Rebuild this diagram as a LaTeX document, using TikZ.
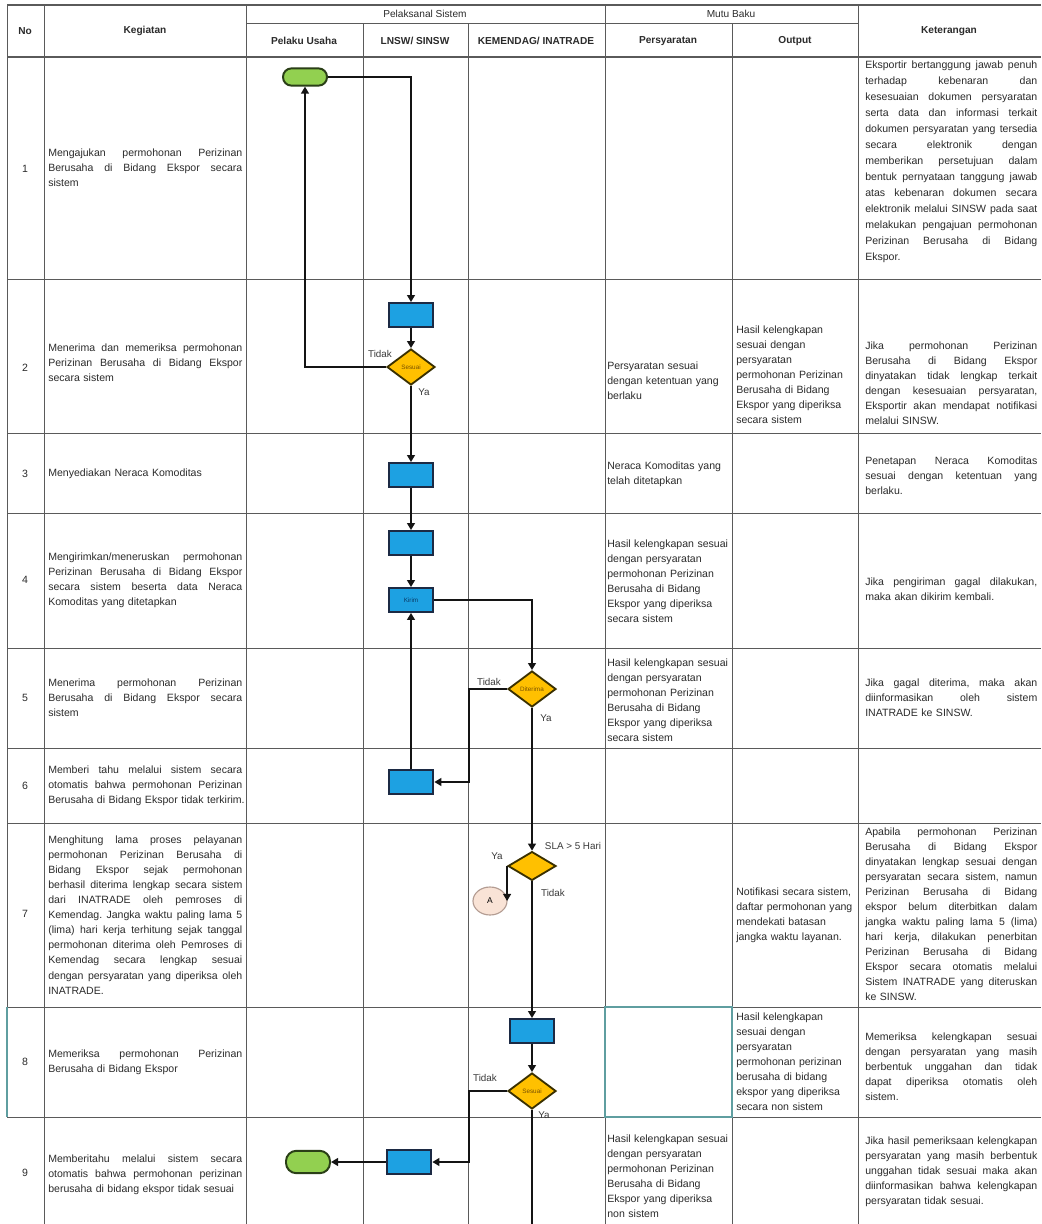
\documentclass[tikz,border=0pt]{standalone}
\usepackage{fontspec}
\setmainfont{Liberation Sans}
\usetikzlibrary{arrows.meta,positioning,shapes.geometric}
\definecolor{termgreen}{HTML}{92D050}
\definecolor{termline}{HTML}{2A3F17}
\definecolor{procblue}{HTML}{1DA1E2}
\definecolor{procline}{HTML}{1C2A44}
\definecolor{decyellow}{HTML}{FFC000}
\definecolor{decline}{HTML}{3A3000}
\definecolor{dectext}{HTML}{7A5200}
\definecolor{kirimtext}{HTML}{0B3A66}
\definecolor{conpeach}{HTML}{F9E3D6}
\definecolor{conline}{HTML}{B39C92}
\definecolor{flowline}{HTML}{141414}
\definecolor{gridline}{HTML}{5A5A5A}
\definecolor{tealline}{HTML}{5F9EA0}
\definecolor{inktext}{HTML}{2B2B2B}
\definecolor{lbltext}{HTML}{3A3A3A}
\newcommand{\jk}[1]{\makebox[4.85cm][s]{\spaceskip=0pt\xspaceskip=0pt\relax #1}\\}
\newcommand{\jt}[1]{\makebox[4.3cm][s]{\spaceskip=0pt\xspaceskip=0pt\relax #1}\\}

\begin{document}
\frenchspacing
\begin{tikzpicture}[x=0.025cm, y=-0.025cm,
  tline/.style={draw=gridline, line width=0.6pt},
  txt/.style={font=\fontsize{7.5}{10.7}\selectfont, text=inktext, inner sep=0pt, anchor=west, align=left},
  keg/.style={txt, text width=5cm},
  ket/.style={txt, text width=4.5cm},
  syr/.style={txt, text width=3.1cm},
  num/.style={font=\fontsize{7.5}{9}\selectfont, text=inktext},
  hd/.style={font=\fontsize{7.2}{9}\selectfont\bfseries, text=inktext},
  hdn/.style={font=\fontsize{7.2}{9}\selectfont, text=inktext},
  term/.style={draw=termline, fill=termgreen, line width=1.4pt, rounded corners=0.21cm, minimum width=1.1cm, minimum height=0.43cm},
  proc/.style={draw=procline, fill=procblue, line width=1.3pt, minimum width=1.12cm, minimum height=0.6cm, inner sep=0pt, font=\fontsize{4.5}{5}\selectfont, text=kirimtext},
  dec/.style={diamond, draw=decline, fill=decyellow, line width=1.3pt, minimum width=1.2cm, minimum height=0.9cm, inner sep=0pt, font=\fontsize{4.5}{5}\selectfont, text=dectext},
  conn/.style={ellipse, draw=conline, fill=conpeach, line width=0.8pt, minimum width=0.85cm, minimum height=0.7cm, inner sep=0pt, font=\fontsize{6}{7}\selectfont},
  flow/.style={draw=flowline, line width=1.8pt, -{Triangle[length=5pt,width=5.5pt]}},
  link/.style={draw=flowline, line width=1.8pt},
  lbl/.style={font=\fontsize{7}{8}\selectfont, text=lbltext, inner sep=0pt}]

\fill[white] (0,0) rectangle (1041,1224);
\useasboundingbox (0,0) rectangle (1041,1224);

% table
\foreach \x in {44,246,605,858} \draw[tline] (\x,5) -- (\x,1224);
\foreach \x in {363,468,732} \draw[tline] (\x,23) -- (\x,1224);
\draw[tline] (7,5) -- (7,1117);
\draw[tline] (246,23) -- (858,23);
\foreach \y in {279,433,513,648,748,823,1007,1117} \draw[tline] (7,\y) -- (1041,\y);
\draw[tline, line width=1.2pt] (7,5) -- (1041,5);
\draw[tline, line width=1.5pt] (7,57) -- (1041,57);
\draw[draw=tealline, line width=0.8pt] (605,1007) rectangle (732,1117);
\draw[draw=tealline, line width=0.8pt] (7,1007) -- (7,1117);

\node[hd] (hno) at (25,31) {No};
\node[hd] (hkeg) at (145,31) {Kegiatan};
\node[hdn] (hpel) at (425,14) {Pelaksanal Sistem};
\node[hd] (hpu) at (304,41) {Pelaku Usaha};
\node[hd] (hlnsw) at (415,41) {LNSW/ SINSW};
\node[hd] (hkem) at (536,41) {KEMENDAG/ INATRADE};
\node[hdn] (hmutu) at (731,14) {Mutu Baku};
\node[hd] (hsyr) at (668,41) {Persyaratan};
\node[hd] (hout) at (795,41) {Output};
\node[hd] (hket) at (949,31) {Keterangan};

\foreach \n/\y in {1/169,2/368,3/474,4/580,5/698,6/786,7/914,8/1062,9/1173}
  \node[num] (no\n) at (25,\y) {\n};

\node[keg] (k1) at (48,168) {\jk{Mengajukan permohonan Perizinan}\jk{Berusaha di Bidang Ekspor secara}sistem};
\node[keg] (k2) at (48,363) {\jk{Menerima dan memeriksa permohonan}\jk{Perizinan Berusaha di Bidang Ekspor}secara sistem};
\node[keg] (k3) at (48,474) {Menyediakan Neraca Komoditas};
\node[keg] (k4) at (48,580) {\jk{Mengirimkan/meneruskan permohonan}\jk{Perizinan Berusaha di Bidang Ekspor}\jk{secara sistem beserta data Neraca}Komoditas yang ditetapkan};
\node[keg] (k5) at (48,698) {\jk{Menerima permohonan Perizinan}\jk{Berusaha di Bidang Ekspor secara}sistem};
\node[keg] (k6) at (48,786) {\jk{Memberi tahu melalui sistem secara}\jk{otomatis bahwa permohonan Perizinan}Berusaha di Bidang Ekspor tidak terkirim.};
\node[keg] (k7) at (48,915) {\jk{Menghitung lama proses pelayanan}\jk{permohonan Perizinan Berusaha di}\jk{Bidang Ekspor sejak permohonan}\jk{berhasil diterima lengkap secara sistem}\jk{dari INATRADE oleh pemroses di}\jk{Kemendag. Jangka waktu paling lama 5}\jk{(lima) hari kerja terhitung sejak tanggal}\jk{permohonan diterima oleh Pemroses di}\jk{Kemendag secara lengkap sesuai}\jk{dengan persyaratan yang diperiksa oleh}INATRADE.};
\node[keg] (k8) at (48,1062) {\jk{Memeriksa permohonan Perizinan}Berusaha di Bidang Ekspor};
\node[keg] (k9) at (48,1175) {\jk{Memberitahu melalui sistem secara}\jk{otomatis bahwa permohonan perizinan}berusaha di bidang ekspor tidak sesuai};

\node[syr] (s2) at (607,381) {Persyaratan sesuai\\dengan ketentuan yang\\berlaku};
\node[syr] (s3) at (607,474) {Neraca Komoditas yang\\telah ditetapkan};
\node[syr] (s4) at (607,581) {Hasil kelengkapan sesuai\\dengan persyaratan\\permohonan Perizinan\\Berusaha di Bidang\\Ekspor yang diperiksa\\secara sistem};
\node[syr] (s5) at (607,700) {Hasil kelengkapan sesuai\\dengan persyaratan\\permohonan Perizinan\\Berusaha di Bidang\\Ekspor yang diperiksa\\secara sistem};
\node[syr] (s9) at (607,1176) {Hasil kelengkapan sesuai\\dengan persyaratan\\permohonan Perizinan\\Berusaha di Bidang\\Ekspor yang diperiksa\\non sistem};

\node[syr] (o2) at (736,375) {Hasil kelengkapan\\sesuai dengan\\persyaratan\\permohonan Perizinan\\Berusaha di Bidang\\Ekspor yang diperiksa\\secara sistem};
\node[syr] (o7) at (736,915) {Notifikasi secara sistem,\\daftar permohonan yang\\mendekati batasan\\jangka waktu layanan.};
\node[syr] (o8) at (736,1062) {Hasil kelengkapan\\sesuai dengan\\persyaratan\\permohonan perizinan\\berusaha di bidang\\ekspor yang diperiksa\\secara non sistem};

\node[ket, font=\fontsize{7.5}{11.4}\selectfont] (t1) at (865,162) {\jt{Eksportir bertanggung jawab penuh}\jt{terhadap kebenaran dan}\jt{kesesuaian dokumen persyaratan}\jt{serta data dan informasi terkait}\jt{dokumen persyaratan yang tersedia}\jt{secara elektronik dengan}\jt{memberikan persetujuan dalam}\jt{bentuk pernyataan tanggung jawab}\jt{atas kebenaran dokumen secara}\jt{elektronik melalui SINSW pada saat}\jt{melakukan pengajuan permohonan}\jt{Perizinan Berusaha di Bidang}Ekspor.};
\node[ket] (t2) at (865,383) {\jt{Jika permohonan Perizinan}\jt{Berusaha di Bidang Ekspor}\jt{dinyatakan tidak lengkap terkait}\jt{dengan kesesuaian persyaratan,}\jt{Eksportir akan mendapat notifikasi}melalui SINSW.};
\node[ket] (t3) at (865,476) {\jt{Penetapan Neraca Komoditas}\jt{sesuai dengan ketentuan yang}berlaku.};
\node[ket] (t4) at (865,589) {\jt{Jika pengiriman gagal dilakukan,}maka akan dikirim kembali.};
\node[ket] (t5) at (865,698) {\jt{Jika gagal diterima, maka akan}\jt{diinformasikan oleh sistem}INATRADE ke SINSW.};
\node[ket] (t7) at (865,914) {\jt{Apabila permohonan Perizinan}\jt{Berusaha di Bidang Ekspor}\jt{dinyatakan lengkap sesuai dengan}\jt{persyaratan secara sistem, namun}\jt{Perizinan Berusaha di Bidang}\jt{ekspor belum diterbitkan dalam}\jt{jangka waktu paling lama 5 (lima)}\jt{hari kerja, dilakukan penerbitan}\jt{Perizinan Berusaha di Bidang}\jt{Ekspor secara otomatis melalui}\jt{Sistem INATRADE yang diteruskan}ke SINSW.};
\node[ket] (t8) at (865,1067) {\jt{Memeriksa kelengkapan sesuai}\jt{dengan persyaratan yang masih}\jt{berbentuk unggahan dan tidak}\jt{dapat diperiksa otomatis oleh}sistem.};
\node[ket] (t9) at (865,1172) {\jt{Jika hasil pemeriksaan kelengkapan}\jt{persyaratan yang masih berbentuk}\jt{unggahan tidak sesuai maka akan}\jt{diinformasikan bahwa kelengkapan}persyaratan tidak sesuai.};

% flow
\node[term] (start) at (305,77) {};
\node[proc] (b2) at (411,315) {};
\node[dec] (d2) at (411,367) {Sesuai};
\node[proc] (b3) at (411,475) {};
\node[proc] (b4) at (411,543) {};
\node[proc] (kirim) at (411,600) {Kirim};
\node[dec] (d5) at (532,689) {Diterima};
\node[proc] (b6) at (411,782) {};
\node[dec, minimum height=0.72cm] (d7) at (532,866) {};
\node[conn] (conA) at (490,901) {A};
\node[proc] (b8) at (532,1031) {};
\node[dec] (d8) at (532,1091) {Sesuai};
\node[proc] (b9) at (409,1162) {};
\node[term, minimum height=0.56cm, rounded corners=0.26cm] (finish) at (308,1162) {};

\draw[flow] (start.east) -| (b2.north);
\draw[flow] (b2) -- (d2);
\draw[flow] (d2.west) -| (start.south);
\draw[flow] (d2) -- (b3);
\draw[flow] (b3) -- (b4);
\draw[flow] (b4) -- (kirim);
\draw[flow] (kirim.east) -| (d5.north);
\coordinate (t5) at (469,782);
\draw[flow] (d5.west) -| (t5) -- (b6.east);
\draw[flow] (b6) -- (kirim);
\draw[flow] (d5) -- (d7);
\draw[flow] (d7.west) -- (d7.west |- conA.east);
\draw[flow] (d7) -- (b8);
\draw[flow] (b8) -- (d8);
\coordinate (t8) at (469,1162);
\draw[flow] (d8.west) -| (t8) -- (b9.east);
\draw[flow] (b9) -- (finish);
\coordinate (out9) at (532,1224);
\draw[link] (d8.south) -- (out9);

\node[lbl] (l2n) at (380,354) {Tidak};
\node[lbl] (l2y) at (424,392) {Ya};
\node[lbl] (l5n) at (489,682) {Tidak};
\node[lbl] (l5y) at (546,718) {Ya};
\node[lbl] (l7s) at (573,846) {SLA > 5 Hari};
\node[lbl] (l7y) at (497,856) {Ya};
\node[lbl] (l7n) at (553,893) {Tidak};
\node[lbl] (l8n) at (485,1078) {Tidak};
\node[lbl] (l8y) at (544,1115) {Ya};
\end{tikzpicture}
\end{document}
